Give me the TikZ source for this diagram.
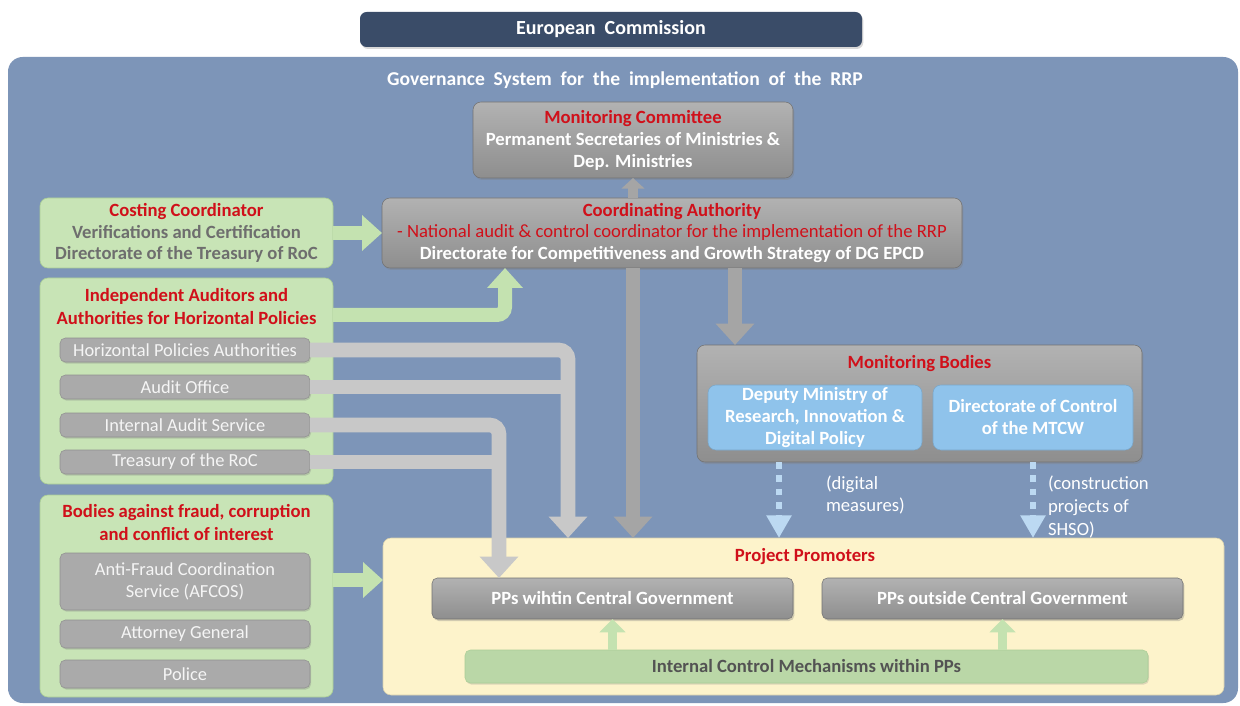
\documentclass[tikz,border=0pt]{standalone}
\usepackage{fontspec}
\setmainfont{Carlito}
\usetikzlibrary{arrows.meta,shadows}
\definecolor{navy}{RGB}{58,76,104}
\definecolor{bgblue}{RGB}{125,149,184}
\definecolor{rred}{RGB}{208,16,26}
\definecolor{gbox}{RGB}{200,228,182}
\definecolor{gboxd}{RGB}{170,205,150}
\definecolor{garr}{RGB}{196,226,176}
\definecolor{ybox}{RGB}{253,243,203}
\definecolor{lblue}{RGB}{143,195,235}
\definecolor{dblue}{RGB}{188,217,242}
\definecolor{gtop}{RGB}{178,178,178}
\definecolor{gbot}{RGB}{142,142,142}
\definecolor{subg}{RGB}{170,170,170}
\definecolor{arrg}{RGB}{200,200,200}
\definecolor{arrd}{RGB}{165,165,165}
\definecolor{txtg}{RGB}{110,110,110}
\begin{document}
\begin{tikzpicture}[x=0.75pt,y=-0.75pt,
  wh/.style 2 args={minimum width={(#1)*0.75pt},minimum height={(#2)*0.75pt}},
  every node/.style={inner sep=0pt,outer sep=0pt,align=center,font=\fontsize{14}{16.5}\selectfont\bfseries},
  graybox/.style={rounded corners=6pt,top color=gtop,bottom color=gbot,draw=gbot!80!black,line width=0.4pt,
     drop shadow={opacity=0.35,shadow xshift=1pt,shadow yshift=-1.5pt},text=white},
  greenbox/.style={rounded corners=6pt,fill=gbox,draw=gboxd,line width=0.5pt},
  subbox/.style={rounded corners=4pt,fill=subg,draw=subg!85!black,line width=0.4pt,
     drop shadow={opacity=0.3,shadow xshift=0.8pt,shadow yshift=-1.2pt},
     text=white!92!gray,font=\fontsize{13.8}{17}\selectfont},
  bluebox/.style={rounded corners=6pt,fill=lblue,draw=lblue!85!black,line width=0.4pt,text=white},
  redt/.style={text=rred},
  garrow/.style={draw=garr,line width=10.5pt,-{Triangle[width=26pt,length=15pt]},rounded corners=6pt},
  garrows/.style={draw=garr,line width=7pt,-{Triangle[width=19pt,length=10pt]}},
  grarrow/.style={draw=arrg,line width=11pt,-{Triangle[width=28pt,length=16pt]},rounded corners=7pt},
  grline/.style={draw=arrg,line width=11pt},
  gdarrow/.style={draw=arrd,line width=11pt,-{Triangle[width=28pt,length=16pt]}},
  gdarrows/.style={draw=arrd,line width=7pt,-{Triangle[width=17pt,length=8pt]}},
  barrow/.style={draw=dblue,line width=5pt,dash pattern=on 5pt off 5pt,-{Triangle[width=18pt,length=17pt]}}
]
\useasboundingbox (0,0) rectangle (1240,706);
\fill[white] (0,0) rectangle (1240,706);

% European Commission
\node[wh={502}{35},rounded corners=5pt,fill=navy,text=white,font=\fontsize{15}{17}\selectfont\bfseries,
  drop shadow={opacity=0.3,shadow xshift=1pt,shadow yshift=-1.5pt}] (ec) at (611,29.5) {European\ \ Commission};

% main background
\node[wh={1230}{646},rounded corners=11pt,fill=bgblue] (bg) at (623,380) {};
\node[text=white,font=\fontsize{14.7}{17}\selectfont\bfseries] (title) at (625,80)
  {Governance\ \ System\ \ for\ \ the\ \ implementation\ \ of\ \ the\ \ RRP};

% Monitoring Committee
\node[graybox,wh={320}{76}] (mc) at (633,140) {\textcolor{rred}{Monitoring Committee}\\Permanent Secretaries of Ministries \&\\Dep. Ministries};

% Coordinating Authority
\node[graybox,wh={580}{70},font=\fontsize{14}{16}\selectfont\bfseries] (ca) at (672,233) {\textcolor{rred}{Coordinating Authority}\\
  \textcolor{rred}{\mdseries - National audit \& control coordinator for the implementation of the RRP}\\
  Directorate for Competitiveness and Growth Strategy of DG EPCD};

% Costing Coordinator
\node[greenbox,wh={293}{70},font=\fontsize{14}{16}\selectfont\bfseries] (cc) at (186.5,233) {\textcolor{rred}{Costing Coordinator}\\
  \textcolor{txtg}{Verifications and Certification}\\\textcolor{txtg}{Directorate of the Treasury of RoC}};

% Independent auditors
\node[greenbox,wh={293}{206}] (ia) at (186.5,381) {};
\node[redt,font=\fontsize{14}{17}\selectfont\bfseries] (iat) at (186.5,306.5) {Independent Auditors and\\Authorities for Horizontal Policies};
\node[subbox,wh={250}{24}] (hpa) at (185,350) {Horizontal Policies Authorities};
\node[subbox,wh={250}{24}] (ao) at (185,387) {Audit Office};
\node[subbox,wh={250}{24}] (ias) at (185,425) {Internal Audit Service};
\node[subbox,wh={250}{24}] (tr) at (185,462) {Treasury of the RoC};

% Bodies against fraud
\node[greenbox,wh={293}{202}] (bf) at (186.5,596) {};
\node[redt,font=\fontsize{14}{17}\selectfont\bfseries] (bft) at (186.5,522.5) {Bodies against fraud, corruption\\and conflict of interest};
\node[subbox,wh={250}{57}] (afc) at (185,581.5) {Anti-Fraud Coordination\\Service (AFCOS)};
\node[subbox,wh={250}{28}] (ag) at (185,634) {Attorney General};
\node[subbox,wh={250}{28}] (pol) at (185,674) {Police};

% Monitoring Bodies
\node[graybox,wh={445}{117}] (mb) at (919.5,403.5) {};
\node[redt] (mbt) at (919.5,364) {Monitoring Bodies};
\node[bluebox,wh={214}{65},font=\fontsize{14}{16.5}\selectfont\bfseries] (dm) at (815,417.5) {Deputy Ministry of\\Research, Innovation \&\\Digital Policy};
\node[bluebox,wh={200}{65}] (dc) at (1033,417.5) {Directorate of Control\\of the MTCW};

% Project Promoters
\node[rounded corners=6pt,fill=ybox,draw=ybox!85!black,line width=0.4pt,wh={841}{157}] (pp) at (803.5,616.5) {};
\node[redt] (ppt) at (805,557) {Project Promoters};
\node[graybox,rounded corners=4pt,wh={361}{41}] (ppin) at (612.5,598.5) {PPs wihtin Central Government};
\node[graybox,rounded corners=4pt,wh={361}{41}] (ppout) at (1002.5,598.5) {PPs outside Central Government};
\node[rounded corners=4pt,fill=garr!95!black,draw=gboxd,line width=0.4pt,wh={683}{33},text=txtg!75!black,
  drop shadow={opacity=0.25,shadow xshift=0.8pt,shadow yshift=-1.2pt}] (icm) at (806.5,666.5) {Internal Control Mechanisms within PPs};

% helper coordinates
\coordinate (k1) at (505,315);
\coordinate (k2) at (568,0);
\coordinate (k3) at (499,0);
\coordinate (k4) at (633,0);
\coordinate (k5) at (735,0);
\coordinate (k6) at (779,0);
\coordinate (k7) at (0,580);

% green arrows
\draw[garrow] (cc.east) -- (ca.west);
\draw[garrow] (ia.east |- k1) -| (ca.south -| k1);
\draw[garrow] (bf.east |- k7) -- (pp.west |- k7);
\draw[garrows] (icm.north -| ppin) -- (ppin.south);
\draw[garrows] (icm.north -| ppout) -- (ppout.south);

% gray arrows from audit bodies
\draw[grline] (ao.east) -- (ao.east -| k2);
\draw[grarrow] (hpa.east) -| (k2 |- pp.north);
\draw[grline] (tr.east) -- (tr.east -| k3);
\draw[grarrow] (ias.east) -| (k3 |- ppin.north);

% coordinating authority arrows
\draw[gdarrows] (k4 |- ca.north) -- (k4 |- mc.south);
\draw[gdarrow] (k4 |- ca.south) -- (k4 |- pp.north);
\draw[gdarrow] (k5 |- ca.south) -- (k5 |- mb.north);

% monitoring bodies dashed arrows
\draw[barrow] (k6 |- mb.south) -- (k6 |- pp.north);
\draw[barrow] (dc.south |- mb.south) -- (dc.south |- pp.north);
\node[anchor=west,text=white,font=\fontsize{14}{17}\selectfont,align=left] (lbl1) at (826,495) {(digital\\measures)};
\node[anchor=west,text=white,font=\fontsize{14}{17}\selectfont,align=left] (lbl2) at (1048,507) {(construction\\projects of\\SHSO)};
\end{tikzpicture}
\end{document}
